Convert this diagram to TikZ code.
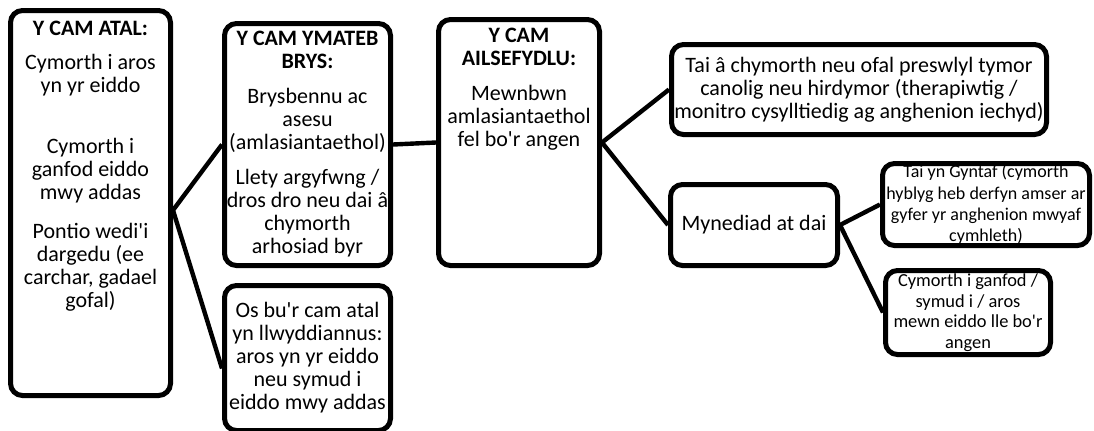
\documentclass[tikz,border=0pt]{standalone}
\usepackage{fontspec}
\setmainfont{Carlito}
\usetikzlibrary{positioning}
\newcommand{\ap}{\textquotesingle}

\begin{document}
\begin{tikzpicture}[
  x=0.5pt, y=-0.5pt,
  node distance=7.5pt,
  stage/.style={rectangle, draw, fill=white, rounded corners=6pt, line width=2.5pt, align=center, inner xsep=1pt, inner ysep=2pt, font=\fontsize{11}{11.5}\selectfont},
  stagetext/.style={align=center, inner sep=0pt, font=\fontsize{11}{11.5}\selectfont},
  smallstage/.style={stage, inner xsep=0pt, inner ysep=0pt, font=\fontsize{9}{10.6}\selectfont},
  link/.style={line width=2.2pt, line join=round}
]
  \useasboundingbox (0,0) rectangle (1094,430);

  % Prevention stage - left column
  \node[stage, minimum width=80pt, minimum height=192.5pt] (atal) at (90.5,203) {};
  \node[stagetext, below=6.2pt of atal.north] (atal-text) {\textbf{Y CAM ATAL:}\\[5.5pt]
    Cymorth i aros\\ yn yr eiddo\\[19pt]
    Cymorth i\\ ganfod eiddo\\ mwy addas\\[8pt]
    Pontio wedi\ap{}i\\ dargedu (ee\\ carchar, gadael\\ gofal)};

  % Crisis stage and the successful prevention route
  \node[stage, minimum width=83pt, minimum height=121pt] (ymateb) at (307.5,144.5) {\textbf{Y CAM YMATEB}\\ \textbf{BRYS:}\\[6pt]
    Brysbennu ac\\ asesu\\ (amlasiantaethol)\\[6pt]
    Llety argyfwng /\\ dros dro neu dai â\\ chymorth\\ arhosiad byr};
  \node[stage, minimum width=83pt, minimum height=72.5pt, below=of ymateb] (llwyddo) {Os bu\ap{}r cam atal\\ yn llwyddiannus:\\ aros yn yr eiddo\\ neu symud i\\ eiddo mwy addas};

  % Resettlement stage
  \node[stage, minimum width=80.5pt, minimum height=123pt] (ailsefydlu) at (519,142.5) {};
  \node[stagetext, below=5.3pt of ailsefydlu.north] (ailsefydlu-text) {\textbf{Y CAM}\\ \textbf{AILSEFYDLU:}\\[6pt]
    Mewnbwn\\ amlasiantaethol\\ fel bo\ap{}r angen};

  % Housing options - right side
  \node[stage, minimum width=187.5pt, minimum height=45pt] (tai) at (859,89.5) {Tai â chymorth neu ofal preswlyl tymor\\ canolig neu hirdymor (therapiwtig /\\ monitro cysylltiedig ag anghenion iechyd)};
  \node[stage, minimum width=83.5pt, minimum height=40.5pt] (mynediad) at (754,225) {Mynediad at dai};
  \node[smallstage, minimum width=103.5pt, minimum height=41pt] (gyntaf) at (986,204.5) {Tai yn Gyntaf (cymorth\\ hyblyg heb derfyn amser ar\\ gyfer yr anghenion mwyaf\\ cymhleth)};
  \node[smallstage, minimum width=82.5pt, minimum height=42pt, font=\fontsize{9.2}{10.3}\selectfont] (canfod) at (968,312.5) {Cymorth i ganfod /\\ symud i / aros\\ mewn eiddo lle bo\ap{}r\\ angen};

  % Connections
  \draw[link] (ymateb.west) -- (atal.-5) -- (llwyddo.187);
  \draw[link] (ymateb.east) -- (ailsefydlu.west);
  \draw[link] (tai.west) -- (ailsefydlu.east) -- (mynediad.west);
  \draw[link] (gyntaf.west) -- (mynediad.east) -- (canfod.west);
\end{tikzpicture}
\end{document}
